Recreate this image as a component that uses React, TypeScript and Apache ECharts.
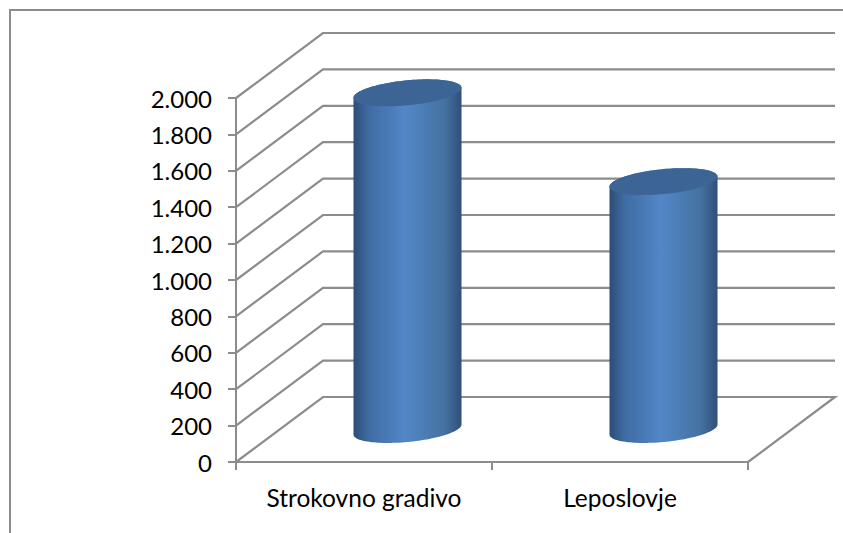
import React, { useEffect, useRef } from "react";
import * as echarts from "echarts";

const categories = ["Strokovno gradivo", "Leposlovje"];
const values = [1850, 1362];
const axisTicks = [0, 200, 400, 600, 800, 1000, 1200, 1400, 1600, 1800, 2000];
const tickLabels = ["0", "200", "400", "600", "800", "1.000", "1.200", "1.400", "1.600", "1.800", "2.000"];

const GREY = "#8c8c8c";
const DEPTH_X = 87;
const DEPTH_Y = 65;
const RX = 54;
const RY = 12.5;
const TILT = 5;

const ellipsePoint = (cx: number, cy: number, t: number) => [
  cx + RX * Math.cos(t),
  cy + RY * Math.sin(t) - TILT * Math.cos(t),
];

const arcPoints = (cx: number, cy: number, from: number, to: number, steps: number) => {
  const pts: number[][] = [];
  for (let i = 0; i <= steps; i++) pts.push(ellipsePoint(cx, cy, from + ((to - from) * i) / steps));
  return pts;
};

export default function App() {
  const ref = useRef<HTMLDivElement>(null);
  useEffect(() => {
    document.body.style.margin = "0";
    const chart = echarts.init(ref.current!, undefined, { renderer: "svg" });
    const font = "Lato, Carlito, sans-serif";
    chart.setOption({
      animation: false,
      backgroundColor: "#ffffff",
      grid: { left: 236, right: 95, top: 98, bottom: 71 },
      graphic: [
        { type: "line", shape: { x1: 10, y1: 9, x2: 10, y2: 533 }, style: { stroke: GREY, lineWidth: 2 }, silent: true },
        { type: "line", shape: { x1: 9, y1: 10, x2: 843, y2: 10 }, style: { stroke: GREY, lineWidth: 2 }, silent: true },
      ],
      xAxis: {
        type: "category",
        data: categories,
        axisLine: { lineStyle: { color: GREY, width: 2 } },
        axisTick: { show: true, alignWithLabel: false, interval: 0, length: 8, lineStyle: { color: GREY, width: 2 } },
        axisLabel: { color: "#000", fontFamily: font, fontSize: 24.5, margin: 23, interval: 0 },
      },
      yAxis: {
        type: "value",
        min: 0,
        max: 2000,
        interval: 200,
        axisLine: { show: true, lineStyle: { color: GREY, width: 2 } },
        axisTick: { show: true, length: 8, lineStyle: { color: GREY, width: 2 } },
        splitLine: { show: false },
        axisLabel: {
          color: "#000",
          fontFamily: font,
          fontSize: 24,
          margin: 24,
          padding: [4, 0, 0, 0],
          formatter: (v: number) => tickLabels[axisTicks.indexOf(v)],
        },
      },
      series: [
        {
          type: "custom",
          silent: true,
          z: 1,
          data: axisTicks.map((v) => [0, v]),
          renderItem: (params: any, api: any) => {
            const v = api.value(1);
            const y = api.coord([0, v])[1];
            const cs = params.coordSys;
            const x0 = cs.x;
            const x1 = cs.x + cs.width;
            const pts =
              v === 0
                ? [
                    [x1, y],
                    [x1 + DEPTH_X, y - DEPTH_Y],
                    [x0 + DEPTH_X, y - DEPTH_Y],
                    [x0, y],
                  ]
                : [
                    [x0, y],
                    [x0 + DEPTH_X, y - DEPTH_Y],
                    [x1 + DEPTH_X, y - DEPTH_Y],
                  ];
            return {
              type: "polyline",
              shape: { points: pts },
              style: { stroke: GREY, lineWidth: 2.2, fill: "none" },
            };
          },
        },
        {
          type: "custom",
          silent: true,
          z: 3,
          data: values.map((v, i) => [i, v]),
          renderItem: (_params: any, api: any) => {
            const i = api.value(0);
            const base = api.coord([i, 0]);
            const top = api.coord([i, api.value(1)]);
            const cx = base[0] + DEPTH_X / 2;
            const by = base[1] - DEPTH_Y / 2;
            const ty = top[1] - DEPTH_Y / 2;
            const bodyPts = [
              ...arcPoints(cx, by, 0, Math.PI, 60),
              ...arcPoints(cx, ty, Math.PI, 2 * Math.PI, 60),
            ];
            return {
              type: "group",
              children: [
                {
                  type: "polygon",
                  shape: { points: bodyPts },
                  style: {
                    fill: new echarts.graphic.LinearGradient(0, 0, 1, 0, [
                      { offset: 0, color: "#2c4d77" },
                      { offset: 0.14, color: "#3f6ca2" },
                      { offset: 0.48, color: "#5287c8" },
                      { offset: 0.85, color: "#44719f" },
                      { offset: 1, color: "#2f4f78" },
                    ]),
                  },
                },
                {
                  type: "polygon",
                  shape: { points: arcPoints(cx, ty, 0, 2 * Math.PI, 120) },
                  style: { fill: "#3c6595" },
                },
              ],
            };
          },
        },
      ],
    });
    return () => chart.dispose();
  }, []);
  return <div ref={ref} style={{ width: 843, height: 533 }} />;
}
